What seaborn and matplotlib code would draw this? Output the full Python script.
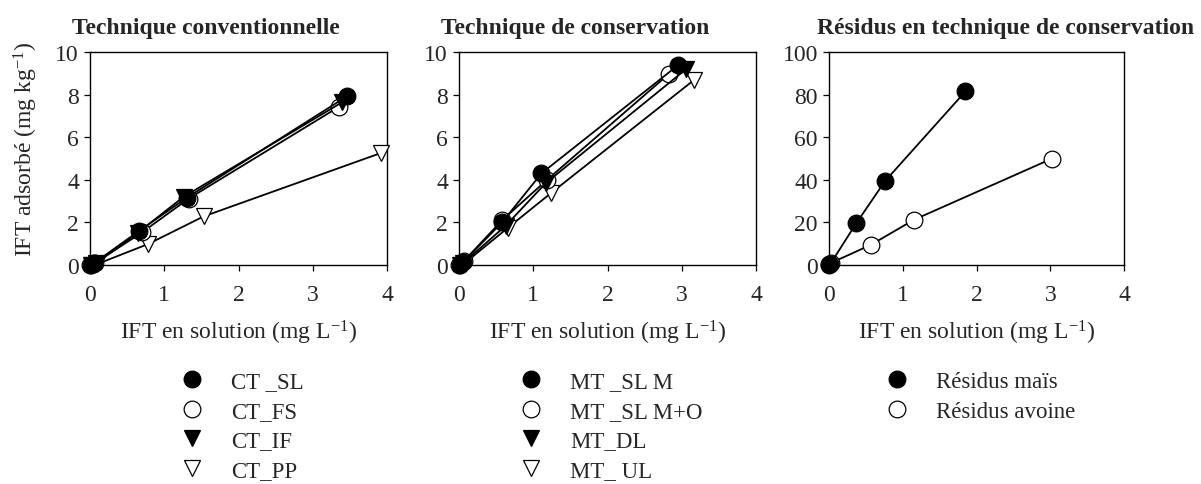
import matplotlib
matplotlib.use("Agg")
import matplotlib.pyplot as plt
from matplotlib.lines import Line2D
import pandas as pd
import seaborn as sns

# ---- Data: adsorbed IFT (mg/kg) versus IFT in solution (mg/L) ----
# Conventional tillage soils
ct_labels = ["CT _SL", "CT_FS", "CT_IF", "CT_PP"]
ct_sl_x = [0.01, 0.06, 0.66, 1.30, 3.46]
ct_sl_y = [0.02, 0.10, 1.60, 3.15, 7.92]
ct_fs_x = [0.00, 0.07, 0.70, 1.33, 3.35]
ct_fs_y = [0.00, 0.10, 1.53, 3.12, 7.42]
ct_if_x = [0.02, 0.08, 0.64, 1.26, 3.40]
ct_if_y = [0.01, 0.08, 1.50, 3.20, 7.65]
ct_pp_x = [0.03, 0.10, 0.78, 1.53, 3.92]
ct_pp_y = [0.00, 0.05, 0.98, 2.28, 5.26]

# Conservation tillage soils
mt_labels = ["MT _SL M", "MT _SL M+O", "MT_DL", "MT_ UL"]
mt_slm_x = [0.01, 0.06, 0.58, 1.11, 2.95]
mt_slm_y = [0.02, 0.15, 2.00, 4.30, 9.38]
mt_slmo_x = [0.00, 0.07, 0.58, 1.18, 2.83]
mt_slmo_y = [0.00, 0.20, 2.10, 3.98, 8.98]
mt_dl_x = [0.02, 0.06, 0.63, 1.17, 3.06]
mt_dl_y = [0.00, 0.10, 1.85, 3.85, 9.20]
mt_ul_x = [0.03, 0.08, 0.66, 1.24, 3.17]
mt_ul_y = [0.00, 0.10, 1.75, 3.38, 8.70]

# Crop residues under conservation tillage
res_labels = ["Résidus maïs", "Résidus avoine"]
res_mais_x = [0.00, 0.02, 0.37, 0.76, 1.85]
res_mais_y = [0.00, 0.60, 19.6, 39.4, 81.5]
res_avoine_x = [0.00, 0.03, 0.57, 1.15, 3.02]
res_avoine_y = [0.30, 1.00, 9.50, 21.2, 49.9]

panel_titles = ["Technique conventionnelle", "Technique de conservation",
                "Résidus en technique de conservation"]
x_ticks = [0, 1, 2, 3, 4]
soil_y_ticks = [0, 2, 4, 6, 8, 10]
res_y_ticks = [0, 20, 40, 60, 80, 100]


def long_table(labels, xs, ys):
    frames = []
    for lab, x, y in zip(labels, xs, ys):
        frames.append(pd.DataFrame({"serie": lab, "conc": x, "ads": y}))
    return pd.concat(frames, ignore_index=True)


ct_df = long_table(ct_labels, [ct_sl_x, ct_fs_x, ct_if_x, ct_pp_x],
                   [ct_sl_y, ct_fs_y, ct_if_y, ct_pp_y])
mt_df = long_table(mt_labels, [mt_slm_x, mt_slmo_x, mt_dl_x, mt_ul_x],
                   [mt_slm_y, mt_slmo_y, mt_dl_y, mt_ul_y])
res_df = long_table(res_labels, [res_mais_x, res_avoine_x],
                    [res_mais_y, res_avoine_y])

# marker shape and face colour for each series, in order
symbols = [("o", "black"), ("o", "white"), ("v", "black"), ("v", "white")]

sns.set_style("ticks")
plt.rcParams["font.family"] = ["Liberation Serif", "DejaVu Serif"]
plt.rcParams["mathtext.fontset"] = "custom"
plt.rcParams["mathtext.rm"] = "Liberation Serif"
plt.rcParams["mathtext.it"] = "Liberation Serif:italic"
plt.rcParams["mathtext.bf"] = "Liberation Serif:bold"

W, H = 1201, 485
fig = plt.figure(figsize=(W / 100, H / 100), dpi=100)


def px_axes(left, top, right, bottom):
    return fig.add_axes([left / W, 1 - bottom / H, (right - left) / W, (bottom - top) / H])


axes = [px_axes(90, 53, 387, 266), px_axes(459, 53, 756, 266), px_axes(829, 53, 1124, 266)]
tables = [ct_df, mt_df, res_df]
label_sets = [ct_labels, mt_labels, res_labels]
y_tick_sets = [soil_y_ticks, soil_y_ticks, res_y_ticks]
draw_orders = [[3, 1, 2, 0], [3, 1, 2, 0], [1, 0]]
title_x = [0.39, 0.39, 0.60]
legend_x = [181, 520, 886]

FS = 17

for i, ax in enumerate(axes):
    df = tables[i]
    labels = label_sets[i]
    for k in draw_orders[i]:
        lab = labels[k]
        marker, face = symbols[k]
        sub = df[df["serie"] == lab]
        sns.lineplot(data=sub, x="conc", y="ads", ax=ax, sort=False, estimator=None,
                     color="black", linewidth=1.3, marker=marker, markersize=12,
                     markerfacecolor=face, markeredgecolor="black",
                     markeredgewidth=0.9, clip_on=False, zorder=3)
    yt = y_tick_sets[i]
    ax.set_xlim(0, 4)
    ax.set_ylim(0, yt[-1])
    ax.set_xticks(x_ticks)
    ax.set_yticks(yt)
    ax.tick_params(axis="both", direction="out", length=4, width=0.9,
                   labelsize=FS, color="black")
    ax.tick_params(axis="x", pad=10)
    ax.tick_params(axis="y", pad=4)
    for s in ax.spines.values():
        s.set_visible(True)
        s.set_color("black")
        s.set_linewidth(1.0)
    ax.set_xlabel("IFT en solution (mg L$^{-1}$)", fontsize=FS)
    ax.xaxis.set_label_coords(0.5, -0.25)
    if i == 0:
        ax.set_ylabel("IFT adsorbé (mg kg$^{-1}$)", fontsize=FS)
        ax.yaxis.set_label_coords(-0.17, 0.55)
    else:
        ax.set_ylabel("")
    ax.text(title_x[i], 1.09, panel_titles[i], transform=ax.transAxes,
            ha="center", va="baseline", fontsize=FS, fontweight="bold")

    handles = [Line2D([], [], linestyle="none", marker=symbols[k][0], markersize=12,
                      markerfacecolor=symbols[k][1], markeredgecolor="black",
                      markeredgewidth=0.9) for k in range(len(labels))]
    fig.legend(handles, labels, loc="upper left",
               bbox_to_anchor=(legend_x[i] / W, 1 - 372 / H),
               frameon=False, fontsize=16.5, handlelength=1.0,
               handletextpad=1.2, labelspacing=0.37, borderpad=0,
               borderaxespad=0)

fig.savefig("out.png", dpi=100)
